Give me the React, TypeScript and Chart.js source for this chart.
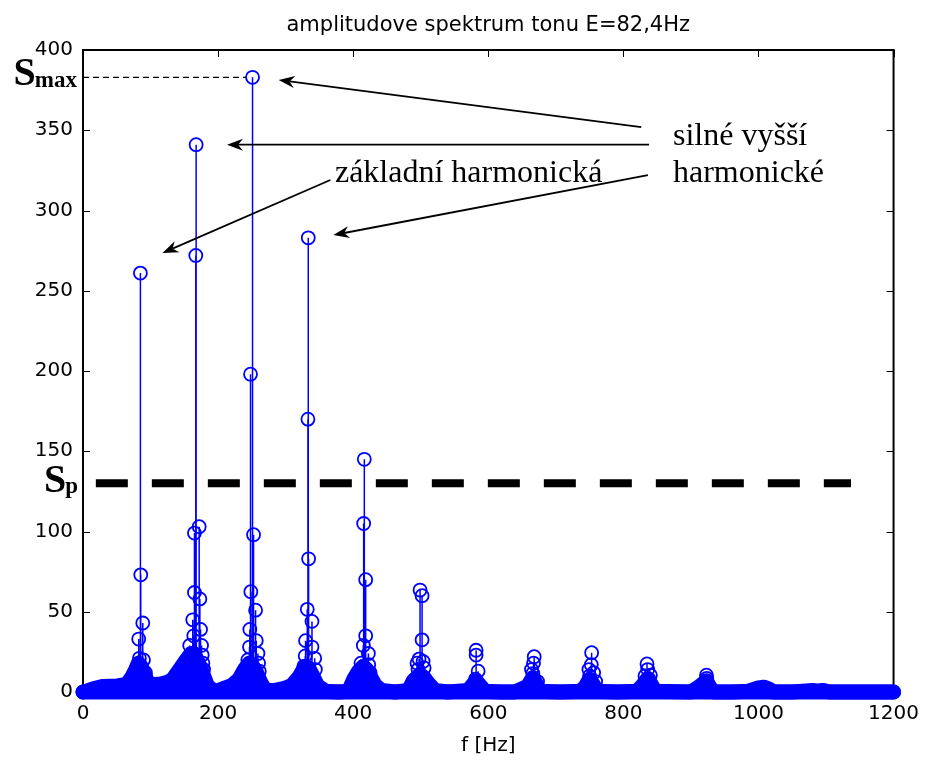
import React, { useEffect, useRef } from 'react';
import { Chart, registerables } from 'chart.js';

Chart.register(...registerables);

// ---------- text ----------
const TITLE = 'amplitudove spektrum tonu E=82,4Hz';
const X_TITLE = 'f [Hz]';

// ---------- axes ----------
const X_TICKS = [0, 200, 400, 600, 800, 1000, 1200];
const Y_TICKS = [0, 50, 100, 150, 200, 250, 300, 350, 400];

// ---------- dense low-level spectrum (upper envelope of the many small stems) ----------
const bandFreq = [
  0, 5, 15, 30, 50, 65, 72, 78, 82, 86, 91, 96, 102, 115, 125, 133, 143, 153, 160, 164,
  169, 177, 184, 192, 197, 207, 220, 231, 239, 246, 250, 256, 263, 270, 285, 300, 309, 320, 329, 334,
  339, 347, 359, 378, 393, 401, 408, 415, 420, 425, 433, 442, 462, 482, 489, 499, 505, 511, 521, 540,
  570, 576, 582, 588, 595, 619, 639, 658, 666, 671, 676, 707, 736, 743, 750, 755, 761, 791, 820, 828,
  835, 841, 847, 900, 913, 923, 928, 934, 960, 985, 1000, 1008, 1015, 1022, 1050, 1080, 1088, 1095, 1105, 1150,
  1200,
];
const bandLevel = [
  0, 0.5, 2, 3.5, 3.7, 5, 9, 14, 18, 16, 11, 6, 4.5, 5, 6, 8, 14, 20, 24, 24,
  20, 12, 4, 1, 0.5, 2, 4, 8, 14, 18, 17, 13, 6, 1, 1, 2.5, 4, 9.5, 16, 15,
  11, 4, 0.5, 0, 0.5, 8, 13, 16, 14, 10, 4, 1, 0, 1, 7, 11, 9, 5.5, 1, 0,
  1, 4, 7, 4, 0.5, 0, 0, 3.5, 9, 5, 0.5, 0, 0.5, 3, 8, 5, 0.5, 0, 0.5, 4,
  8, 5, 0.5, 0, 3.5, 7, 3, 0, 0, 0.5, 2.5, 3, 2, 0, 0, 1, 0.5, 1, 0, 0,
  0,
];
const floorFreq = [0, 1200];
const floorLevel = [0, 0];

// ---------- distinct stems around the harmonics ----------
const stemFreq = [
  // 1st harmonic
  85, 85.5, 88.5, 82.5, 83.5, 89.5, 92.5, 80.5, 79, 91,
  // 2nd
  167.5, 167, 165, 172, 165, 173, 162.5, 174, 164, 175.5, 158, 176.5, 161, 177.5, 157, 178.5, 155,
  // 3rd
  251, 248, 252.5, 248.5, 255.5, 247, 256.5, 246.5, 259, 244, 260, 261, 243,
  // 4th
  333.5, 333, 334, 332, 339, 329.5, 339, 329, 343, 344, 327,
  // 5th
  416.5, 415.5, 418.5, 418.5, 415, 422.5, 411.5, 423, 410, 425,
  // 6th
  499, 502, 502, 497.5, 503.5, 494.5, 505, 496,
  // 7th
  582, 582, 585, 581,
  // 8th
  668, 667, 664, 666, 673,
  // 9th
  753, 752.5, 749, 750, 759, 756,
  // 10th
  835, 836, 840, 832, 838,
  // 11th
  923, 923.5, 921,
];
const stemAmp = [
  261, 73, 43, 33, 21, 20, 12, 15, 10, 9,
  341, 272, 99, 103, 62, 58, 45, 39, 35, 29, 29, 23, 23, 18, 18, 14, 14,
  383, 198, 98, 62.5, 51, 39, 32, 28, 24, 20, 18, 13, 15,
  283, 170, 83, 51.5, 44, 32, 28, 22.5, 21, 14, 16,
  145, 105, 70, 35, 29, 24, 18, 17, 13, 12,
  63.5, 60, 32.5, 20.5, 19, 18, 15, 14,
  26, 23, 13, 8,
  22, 18, 14, 11.5, 6.5,
  24.5, 17, 14, 10, 6.5, 12,
  17.5, 14, 10.5, 10, 8,
  10.5, 8.5, 6,
];

// ---------- reference levels ----------
const SP_LEVEL = 130;
const SP_RANGE = [19, 1137];
const SMAX_LEVEL = 383;
const SMAX_RANGE = [0, 241];

// ---------- annotations (data coordinates) ----------
const noteTexts = [
  { text: 'silné vyšší', f: 873.5, v: 340.8 },
  { text: 'harmonické', f: 873.5, v: 318 },
  { text: 'základní harmonická', f: 373, v: 318 },
];
const noteArrows = [
  { fromF: 826.5, fromV: 352, toF: 289.7, toV: 381.3 },
  { fromF: 838, fromV: 341, toF: 213.2, toV: 341 },
  { fromF: 836.3, fromV: 322.1, toF: 370.6, toV: 284.7 },
  { fromF: 366.2, fromV: 319, toF: 117.6, toV: 273.5 },
];

const BLUE = '#0000ff';
const SANS = 'DejaVu Sans';
const SERIF = 'Liberation Serif';

const toPoints = (xs: number[], ys: number[]) => xs.map((x, i) => ({ x, y: ys[i] }));

const framePlugin = {
  id: 'matlabFrame',
  beforeDatasetsDraw(chart: any) {
    const { ctx, chartArea, scales } = chart;
    const { left, right, top, bottom } = chartArea;
    const xs = scales.x;
    const ys = scales.y;
    const TL = 7;
    ctx.save();
    ctx.strokeStyle = '#000';
    ctx.lineWidth = 1;
    ctx.beginPath();
    xs.ticks.forEach((t: any) => {
      const px = Math.round(xs.getPixelForValue(t.value)) + 0.5;
      ctx.moveTo(px, bottom);
      ctx.lineTo(px, bottom - TL);
      ctx.moveTo(px, top);
      ctx.lineTo(px, top + TL);
    });
    ys.ticks.forEach((t: any) => {
      const py = Math.round(ys.getPixelForValue(t.value)) + 0.5;
      ctx.moveTo(left, py);
      ctx.lineTo(left + TL, py);
      ctx.moveTo(right, py);
      ctx.lineTo(right - TL, py);
    });
    ctx.stroke();
    ctx.lineWidth = 2;
    ctx.strokeRect(left, top, right - left, bottom - top);
    ctx.restore();
  },
};

const stemPlugin = {
  id: 'stems',
  beforeDatasetsDraw(chart: any) {
    const { ctx, scales } = chart;
    const y0 = scales.y.getPixelForValue(0);
    chart.data.datasets.forEach((ds: any, i: number) => {
      if (!ds.isStem) return;
      const meta = chart.getDatasetMeta(i);
      ctx.save();
      ctx.strokeStyle = BLUE;
      ctx.lineWidth = 1.5;
      ctx.beginPath();
      meta.data.forEach((pt: any) => {
        ctx.moveTo(pt.x, y0);
        ctx.lineTo(pt.x, pt.y);
      });
      ctx.stroke();
      ctx.restore();
    });
  },
};

const annotationPlugin = {
  id: 'notes',
  afterDatasetsDraw(chart: any) {
    const { ctx, scales, chartArea } = chart;
    const xs = scales.x;
    const ys = scales.y;
    ctx.save();
    // arrows
    ctx.strokeStyle = '#000';
    ctx.fillStyle = '#000';
    ctx.lineWidth = 1.8;
    noteArrows.forEach((a) => {
      const x1 = xs.getPixelForValue(a.fromF);
      const y1 = ys.getPixelForValue(a.fromV);
      const x2 = xs.getPixelForValue(a.toF);
      const y2 = ys.getPixelForValue(a.toV);
      const len = Math.hypot(x2 - x1, y2 - y1);
      const dx = (x2 - x1) / len;
      const dy = (y2 - y1) / len;
      const nx = -dy;
      const ny = dx;
      const L = 16, W = 6, N = 11;
      ctx.beginPath();
      ctx.moveTo(x1, y1);
      ctx.lineTo(x2 - dx * N, y2 - dy * N);
      ctx.stroke();
      ctx.beginPath();
      ctx.moveTo(x2, y2);
      ctx.lineTo(x2 - dx * L + nx * W, y2 - dy * L + ny * W);
      ctx.lineTo(x2 - dx * N, y2 - dy * N);
      ctx.lineTo(x2 - dx * L - nx * W, y2 - dy * L - ny * W);
      ctx.closePath();
      ctx.fill();
    });
    // texts
    ctx.font = `32px "${SERIF}"`;
    ctx.textAlign = 'left';
    ctx.textBaseline = 'alphabetic';
    noteTexts.forEach((t) => {
      ctx.fillText(t.text, xs.getPixelForValue(t.f), ys.getPixelForValue(t.v));
    });
    // S labels
    const L0 = chartArea.left;
    const drawS = (level: number, sub: string, subRight: number, sDy: number, subDy: number) => {
      const py = ys.getPixelForValue(level);
      ctx.textAlign = 'right';
      ctx.font = `bold 23px "${SERIF}"`;
      const sw = ctx.measureText(sub).width;
      ctx.fillText(sub, subRight, py + subDy);
      ctx.font = `bold 40px "${SERIF}"`;
      ctx.fillText('S', subRight - sw + 1, py + sDy);
    };
    drawS(SMAX_LEVEL, 'max', L0 - 6, 8, 9.5);
    drawS(SP_LEVEL, 'p', L0 - 5, 9, 10);
    ctx.restore();
  },
};

export default function App() {
  const ref = useRef<HTMLCanvasElement>(null);
  useEffect(() => {
    const canvas = ref.current;
    if (!canvas) return;
    const tickFont = { family: SANS, size: 20, weight: 'normal' as const, lineHeight: 1.2 };
    const chart = new Chart(canvas, {
      type: 'scatter',
      data: {
        datasets: [
          {
            type: 'line',
            label: 'Sp',
            data: toPoints(SP_RANGE, [SP_LEVEL, SP_LEVEL]),
            borderColor: '#000',
            borderWidth: 8,
            borderDash: [32, 24],
            pointRadius: 0,
            fill: false,
            clip: false,
          } as any,
          {
            type: 'line',
            label: 'Smax',
            data: toPoints(SMAX_RANGE, [SMAX_LEVEL, SMAX_LEVEL]),
            borderColor: '#000',
            borderWidth: 1.2,
            borderDash: [6, 4],
            pointRadius: 0,
            fill: false,
          } as any,
          {
            type: 'scatter',
            label: 'stems',
            isStem: true,
            data: toPoints(stemFreq, stemAmp),
            pointStyle: 'circle',
            pointRadius: 6.5,
            pointBorderWidth: 1.8,
            pointBorderColor: BLUE,
            pointBackgroundColor: 'rgba(0,0,0,0)',
            clip: false,
          } as any,
          {
            type: 'line',
            label: 'band',
            data: toPoints(bandFreq, bandLevel),
            borderColor: BLUE,
            backgroundColor: BLUE,
            borderWidth: 15,
            borderJoinStyle: 'round',
            borderCapStyle: 'round',
            pointRadius: 0,
            tension: 0,
            fill: 'origin',
            clip: false,
          } as any,
          {
            type: 'line',
            label: 'floor',
            data: toPoints(floorFreq, floorLevel),
            borderColor: BLUE,
            borderWidth: 15,
            borderCapStyle: 'round',
            pointRadius: 0,
            fill: false,
            clip: false,
          } as any,
        ],
      },
      options: {
        animation: false,
        responsive: false,
        events: [],
        layout: { autoPadding: false, padding: { left: 0, right: 30, top: 0, bottom: 0 } },
        plugins: {
          legend: { display: false },
          tooltip: { enabled: false },
          title: {
            display: true,
            fullSize: false,
            text: TITLE,
            color: '#000',
            font: { family: SANS, size: 21, weight: 'normal', lineHeight: 1.2 },
            padding: { top: 13, bottom: 11.8 },
          },
        },
        scales: {
          x: {
            type: 'linear',
            min: X_TICKS[0],
            max: X_TICKS[X_TICKS.length - 1],
            afterBuildTicks: (axis: any) => {
              axis.ticks = X_TICKS.map((v) => ({ value: v }));
            },
            afterFit: (axis: any) => {
              axis.height = 68;
            },
            ticks: {
              color: '#000',
              font: tickFont,
              padding: 10,
              maxRotation: 0,
              autoSkip: false,
              callback: (v: any) => String(v),
            },
            grid: { display: false, drawTicks: false },
            border: { display: false },
            title: {
              display: true,
              text: X_TITLE,
              color: '#000',
              font: tickFont,
              padding: { top: 0, bottom: 2 },
            },
          },
          y: {
            type: 'linear',
            min: Y_TICKS[0],
            max: Y_TICKS[Y_TICKS.length - 1],
            afterBuildTicks: (axis: any) => {
              axis.ticks = Y_TICKS.map((v) => ({ value: v }));
            },
            afterFit: (axis: any) => {
              axis.width = 83;
            },
            ticks: {
              color: '#000',
              font: tickFont,
              padding: 10,
              autoSkip: false,
              callback: (v: any) => String(v),
            },
            grid: { display: false, drawTicks: false },
            border: { display: false },
          },
        },
      } as any,
      plugins: [framePlugin, stemPlugin, annotationPlugin],
    });
    return () => chart.destroy();
  }, []);

  return (
    <div style={{ position: 'absolute', left: 0, top: 0, width: 929, height: 760, background: '#fff' }}>
      <canvas ref={ref} width={929} height={760} style={{ display: 'block' }} />
    </div>
  );
}
